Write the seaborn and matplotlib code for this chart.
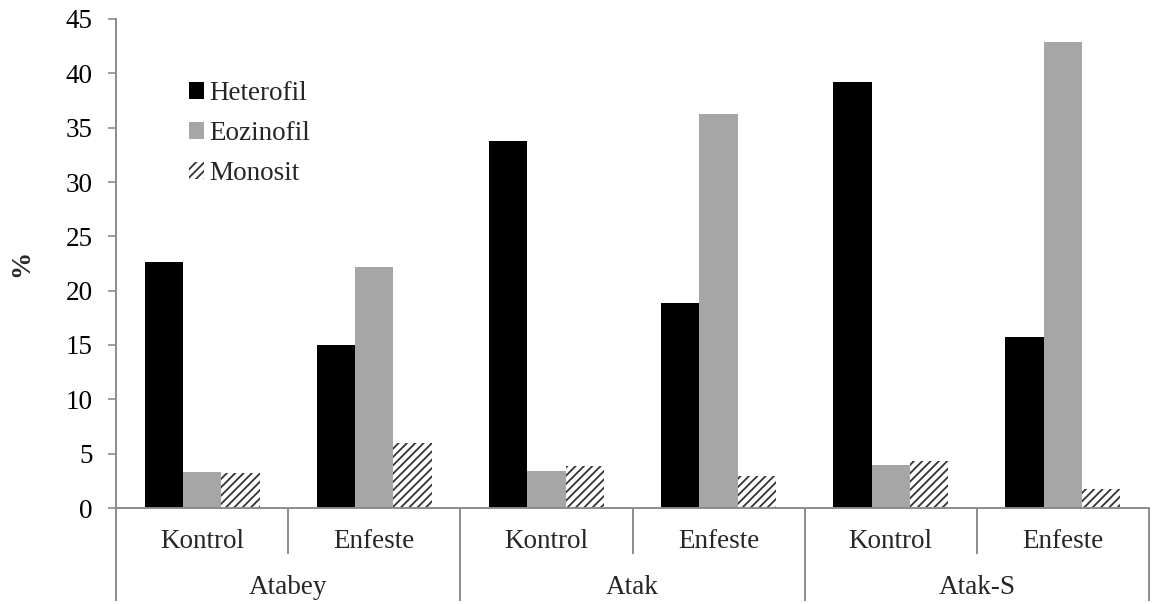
import matplotlib
matplotlib.use("Agg")
import matplotlib.pyplot as plt
import matplotlib.transforms as mtransforms
from matplotlib.patches import Patch
import numpy as np
import pandas as pd
import seaborn as sns

# Leukocyte ratios (%) per line and treatment
groups = ["Atabey", "Atak", "Atak-S"]
treatments = ["Kontrol", "Enfeste"]
cell_types = ["Heterofil", "Eozinofil", "Monosit"]

heterofil = [22.6, 15.0, 33.8, 18.9, 39.2, 15.7]
eozinofil = [3.3, 22.2, 3.4, 36.3, 4.0, 42.9]
monosit = [3.2, 6.0, 3.9, 2.9, 4.35, 1.75]

y_ticks = [0, 5, 10, 15, 20, 25, 30, 35, 40, 45]

colors = ["#000000", "#a6a6a6", "#ffffff"]
grid_color = "#8c8c8c"
hatch_color = "#333333"
fs = 19.5

sns.set_style("white")
plt.rcParams["font.family"] = ["Liberation Serif", "DejaVu Serif"]
plt.rcParams["hatch.color"] = hatch_color
plt.rcParams["hatch.linewidth"] = 1.3

cells = [f"{g}|{t}" for g in groups for t in treatments]
df = pd.DataFrame({
    "cell": cells * 3,
    "type": np.repeat(cell_types, len(cells)),
    "value": heterofil + eozinofil + monosit,
})

fig = plt.figure(figsize=(11.52, 6.04), dpi=100)
ax = fig.add_axes([116 / 1152, 1 - 508 / 604, (1149 - 116) / 1152, (508 - 19) / 604])

sns.barplot(data=df, x="cell", y="value", hue="type", order=cells,
            hue_order=cell_types, palette=colors, width=0.667,
            linewidth=0, saturation=1, ax=ax, legend=False)

# hatch the monocyte bars
for bar in ax.containers[2]:
    bar.set_hatch("////")
    bar.set_edgecolor(hatch_color)
    bar.set_linewidth(0)

ax.set_ylim(0, 45)
ax.set_xlim(-0.5, len(cells) - 0.5)
ax.set_yticks(y_ticks)
ax.set_yticklabels([str(t) for t in y_ticks], fontsize=fs, color="#000000")
ax.tick_params(axis="y", left=True, length=6, width=1.2, color=grid_color, pad=11)
ax.tick_params(axis="x", bottom=False, labelbottom=False)
ax.set_xlabel("")
ax.set_ylabel("")
fig.text(22 / 1152, 1 - 263 / 604, "%", rotation=90, ha="center", va="center",
         fontsize=fs, fontweight="bold")

for side in ["top", "right"]:
    ax.spines[side].set_visible(False)
for side in ["left", "bottom"]:
    ax.spines[side].set_color(grid_color)
    ax.spines[side].set_linewidth(1.4)

# two-level category axis beneath the bars
trans = mtransforms.blended_transform_factory(ax.transData, ax.transAxes)
short_drop = -46 / 489
long_drop = -93 / 489
n_t = len(treatments)
for i in range(len(cells) + 1):
    xpos = i - 0.5
    drop = long_drop if i % n_t == 0 else short_drop
    ax.plot([xpos, xpos], [0, drop], transform=trans, color=grid_color,
            lw=1.4, clip_on=False, solid_capstyle="butt")

for i, c in enumerate(cells):
    ax.text(i, -33 / 489, c.split("|")[1], transform=trans, ha="center",
            va="center", fontsize=fs)
for j, g in enumerate(groups):
    center = j * n_t + (n_t - 1) / 2
    ax.text(center, -80 / 489, g, transform=trans, ha="center",
            va="center", fontsize=fs)

handles = [
    Patch(facecolor=colors[0], edgecolor="none"),
    Patch(facecolor=colors[1], edgecolor="none"),
    Patch(facecolor="#ffffff", edgecolor=hatch_color, hatch="////", linewidth=0),
]
ax.legend(handles, cell_types, loc="upper left", bbox_to_anchor=(0.060, 0.895),
          frameon=False, fontsize=fs, handlelength=0.55, handleheight=0.55,
          handletextpad=0.2, labelspacing=0.55, borderaxespad=0)

fig.savefig("out.png", dpi=100)
